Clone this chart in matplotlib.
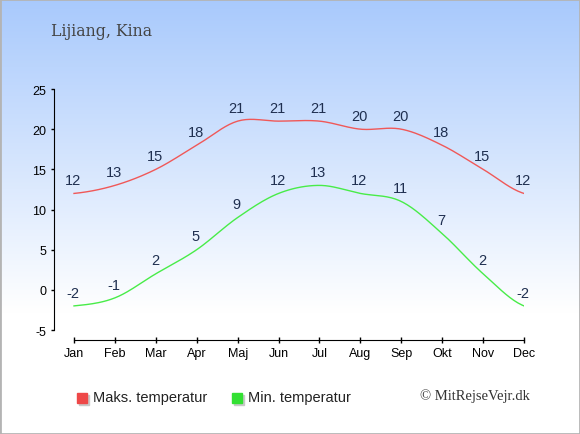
import numpy as np
import matplotlib
matplotlib.use("Agg")
import matplotlib.pyplot as plt
from matplotlib.patches import Rectangle

months = ['Jan', 'Feb', 'Mar', 'Apr', 'Maj', 'Jun', 'Jul', 'Aug', 'Sep', 'Okt', 'Nov', 'Dec']
t_max = [12, 13, 15, 18, 21, 21, 21, 20, 20, 18, 15, 12]
t_min = [-2, -1, 2, 5, 9, 12, 13, 12, 11, 7, 2, -2]
yticks = [-5, 0, 5, 10, 15, 20, 25]

W, H = 580, 435
plt.rcParams['axes.unicode_minus'] = False
plt.rcParams['font.family'] = ['Liberation Sans', 'DejaVu Sans']


def smooth(y, n=20):
  # catmull-rom curve through the points
  y = np.asarray(y, float)
  p = np.concatenate([[y[0]], y, [y[-1]]])
  xs, ys = [], []
  for i in range(len(y) - 1):
    p0, p1, p2, p3 = p[i], p[i+1], p[i+2], p[i+3]
    t = np.linspace(0, 1, n, endpoint=False)
    v = 0.5*((2*p1) + (-p0+p2)*t + (2*p0-5*p1+4*p2-p3)*t**2 + (-p0+3*p1-3*p2+p3)*t**3)
    xs.append(i + t)
    ys.append(v)
  xs.append([len(y)-1])
  ys.append([y[-1]])
  return np.concatenate(xs), np.concatenate(ys)


fig = plt.figure(figsize=(W/100, H/100), dpi=100)

# background gradient
bg = fig.add_axes([0, 0, 1, 1])
bg.set_axis_off()
g = np.linspace(0, 1, 300)
g = np.clip(g / 0.72, 0, 1)
top = np.array([0.66, 0.79, 0.99])
cols = top[None, :] * (1 - g[:, None]) + np.array([1, 1, 1])[None, :] * g[:, None]
bg.imshow(cols[:, None, :], aspect='auto', extent=[0, 1, 0, 1], origin='upper')
bg.add_patch(Rectangle((0, 0), 1, 1, transform=bg.transAxes, fill=False,
                       edgecolor='#b4b4b4', lw=2))
bg.set_xlim(0, 1); bg.set_ylim(0, 1)

x0, x1 = 54, 524
y_top, y_bot = 90, 331
ax = fig.add_axes([x0/W, 1 - y_bot/H, (x1-x0)/W, (y_bot-y_top)/H])
ax.patch.set_alpha(0)
step = (524 - 74) / 11
ax.set_xlim(-(74 - 54)/step, 11)
ax.set_ylim(-5, 25)

x = np.arange(12)
sx, sy = smooth(t_max)
ax.plot(sx, sy, color='#f05858', lw=1)
sx, sy = smooth(t_min)
ax.plot(sx, sy, color='#48ec48', lw=1)

for i in range(12):
  ax.annotate(str(t_max[i]), (x[i], t_max[i]), xytext=(-0.7, 9.6), textcoords='offset points',
              ha='center', va='center', fontsize=10.5, color='#1f2f50')
  ax.annotate(str(t_min[i]), (x[i], t_min[i]), xytext=(-0.7, 9.6), textcoords='offset points',
              ha='center', va='center', fontsize=10.5, color='#1f2f50')

for s in ['top', 'right']:
  ax.spines[s].set_visible(False)
ax.spines['left'].set_bounds(-5, 25)
ax.spines['bottom'].set_position(('outward', 7.3))
ax.spines['bottom'].set_bounds(0, 11)
ax.set_yticks(yticks)
ax.set_xticks(x)
ax.set_xticklabels(months)
ax.tick_params(axis='both', labelsize=9, color='black', width=1)
ax.tick_params(axis='y', length=2.5, pad=3)
ax.tick_params(axis='x', direction='inout', length=4, pad=3)

fig.text(51/W, 1 - 32/H, 'Lijiang, Kina', family='DejaVu Serif', fontsize=11.3,
         color='#444444', va='center', ha='left')

# legend
for lx, c in [(77, '#ee4848'), (232, '#33e033')]:
  fig.patches.append(Rectangle(((lx+1.5)/W, 1 - 405.5/H), 10/W, 10/H,
                               transform=fig.transFigure, color='#c8c8c8'))
  fig.patches.append(Rectangle((lx/W, 1 - 404/H), 10/W, 10/H,
                               transform=fig.transFigure, color=c))
fig.text(93/W, 1 - 398/H, 'Maks. temperatur', fontsize=10.5, va='center', color='#222222')
fig.text(248/W, 1 - 398/H, 'Min. temperatur', fontsize=10.5, va='center', color='#222222')
fig.text(530/W, 1 - 396/H, '© MitRejseVejr.dk', family='Liberation Serif', fontsize=10.5,
         va='center', ha='right', color='#333333')

fig.savefig('out.png', dpi=100)
